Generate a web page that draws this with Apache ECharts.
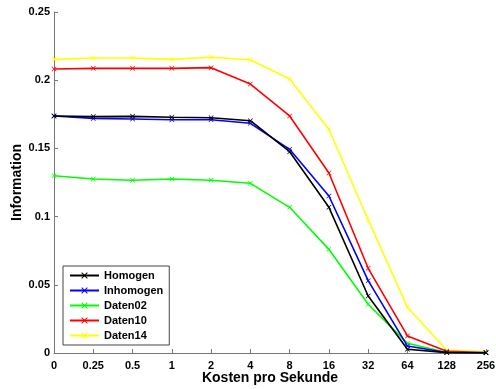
<!DOCTYPE html>
<html>
<head>
<meta charset="utf-8">
<script src="https://cdn.jsdelivr.net/npm/echarts@6/dist/echarts.min.js"></script>
<style>
  html, body { margin: 0; padding: 0; background: #fff; }
  #chart { width: 496px; height: 389px; }
</style>
</head>
<body>
<div id="chart"></div>
<script>
// Cost levels per second (x axis categories)
const kosten = ['0', '0.25', '0.5', '1', '2', '4', '8', '16', '32', '64', '128', '256'];

// Information per data set
const homogen   = [0.1738, 0.1733, 0.1735, 0.1728, 0.1725, 0.1703, 0.1476, 0.1068, 0.0418, 0.0027, 0.0003, 0.0001];
const inhomogen = [0.1738, 0.1720, 0.1716, 0.1710, 0.1710, 0.1684, 0.1493, 0.1151, 0.0530, 0.0051, 0.0004, 0.0001];
const daten02   = [0.1300, 0.1276, 0.1266, 0.1276, 0.1266, 0.1244, 0.1068, 0.0760, 0.0357, 0.0071, 0.0003, 0.0001];
const daten10   = [0.2082, 0.2087, 0.2087, 0.2087, 0.2092, 0.1972, 0.1738, 0.1320, 0.0621, 0.0125, 0.0012, 0.0004];
const daten14   = [0.2153, 0.2163, 0.2163, 0.2153, 0.2168, 0.2150, 0.2009, 0.1640, 0.0975, 0.0335, 0.0020, 0.0007];

const seriesNames = ['Homogen', 'Inhomogen', 'Daten02', 'Daten10', 'Daten14'];
const seriesData = [homogen, inhomogen, daten02, daten10, daten14];
const seriesColors = ['#000000', '#0000ff', '#00ff00', '#ff0000', '#ffff00'];

// small "x" cross marker
const crossSymbol = 'path://M0,1L1,0L5,4L9,0L10,1L6,5L10,9L9,10L5,6L1,10L0,9L4,5Z';

const font = 'Liberation Sans, Arial, sans-serif';

const chart = echarts.init(document.getElementById('chart'), null, { renderer: 'canvas' });

chart.setOption({
  animation: false,
  backgroundColor: '#ffffff',
  grid: { left: 54, right: 10, top: 12, bottom: 36, containLabel: false, outerBoundsMode: 'none' },
  legend: {
    orient: 'vertical',
    left: 63,
    top: 266,
    padding: [2, 6, 2, 6],
    itemGap: 0,
    itemWidth: 29,
    itemHeight: 8,
    backgroundColor: '#ffffff',
    borderColor: '#444444',
    borderWidth: 1,
    borderRadius: 0,
    textStyle: { fontFamily: font, fontWeight: 'bold', fontSize: 11, color: '#000', lineHeight: 15 },
    data: seriesNames
  },
  xAxis: {
    type: 'category',
    data: kosten,
    boundaryGap: false,
    name: 'Kosten pro Sekunde',
    nameLocation: 'middle',
    nameGap: 18,
    nameMoveOverlap: false,
    nameTextStyle: { fontFamily: font, fontWeight: 'bold', fontSize: 14, color: '#000' },
    axisLine: { lineStyle: { color: '#777777', width: 1 } },
    axisTick: { inside: true, length: 4, alignWithLabel: true, lineStyle: { color: '#777777' } },
    axisLabel: { fontFamily: font, fontWeight: 'bold', fontSize: 11, color: '#000', margin: 7, interval: 0 },
    splitLine: { show: false }
  },
  yAxis: {
    type: 'value',
    min: 0,
    max: 0.25,
    interval: 0.05,
    name: 'Information',
    nameLocation: 'middle',
    nameGap: 30,
    nameMoveOverlap: false,
    nameTextStyle: { fontFamily: font, fontWeight: 'bold', fontSize: 14, color: '#000' },
    axisLine: { show: true, lineStyle: { color: '#777777', width: 1 } },
    axisTick: { show: true, inside: true, length: 4, lineStyle: { color: '#777777' } },
    axisLabel: { fontFamily: font, fontWeight: 'bold', fontSize: 11, color: '#000', margin: 4 },
    splitLine: { show: false }
  },
  series: seriesNames.map((name, i) => ({
    name: name,
    type: 'line',
    data: seriesData[i],
    symbol: crossSymbol,
    symbolSize: 5,
    showSymbol: true,
    lineStyle: { color: seriesColors[i], width: 1.6 },
    itemStyle: { color: seriesColors[i] },
    emphasis: { disabled: true },
    z: 2 + (4 - i)
  }))
});
</script>
</body>
</html>
